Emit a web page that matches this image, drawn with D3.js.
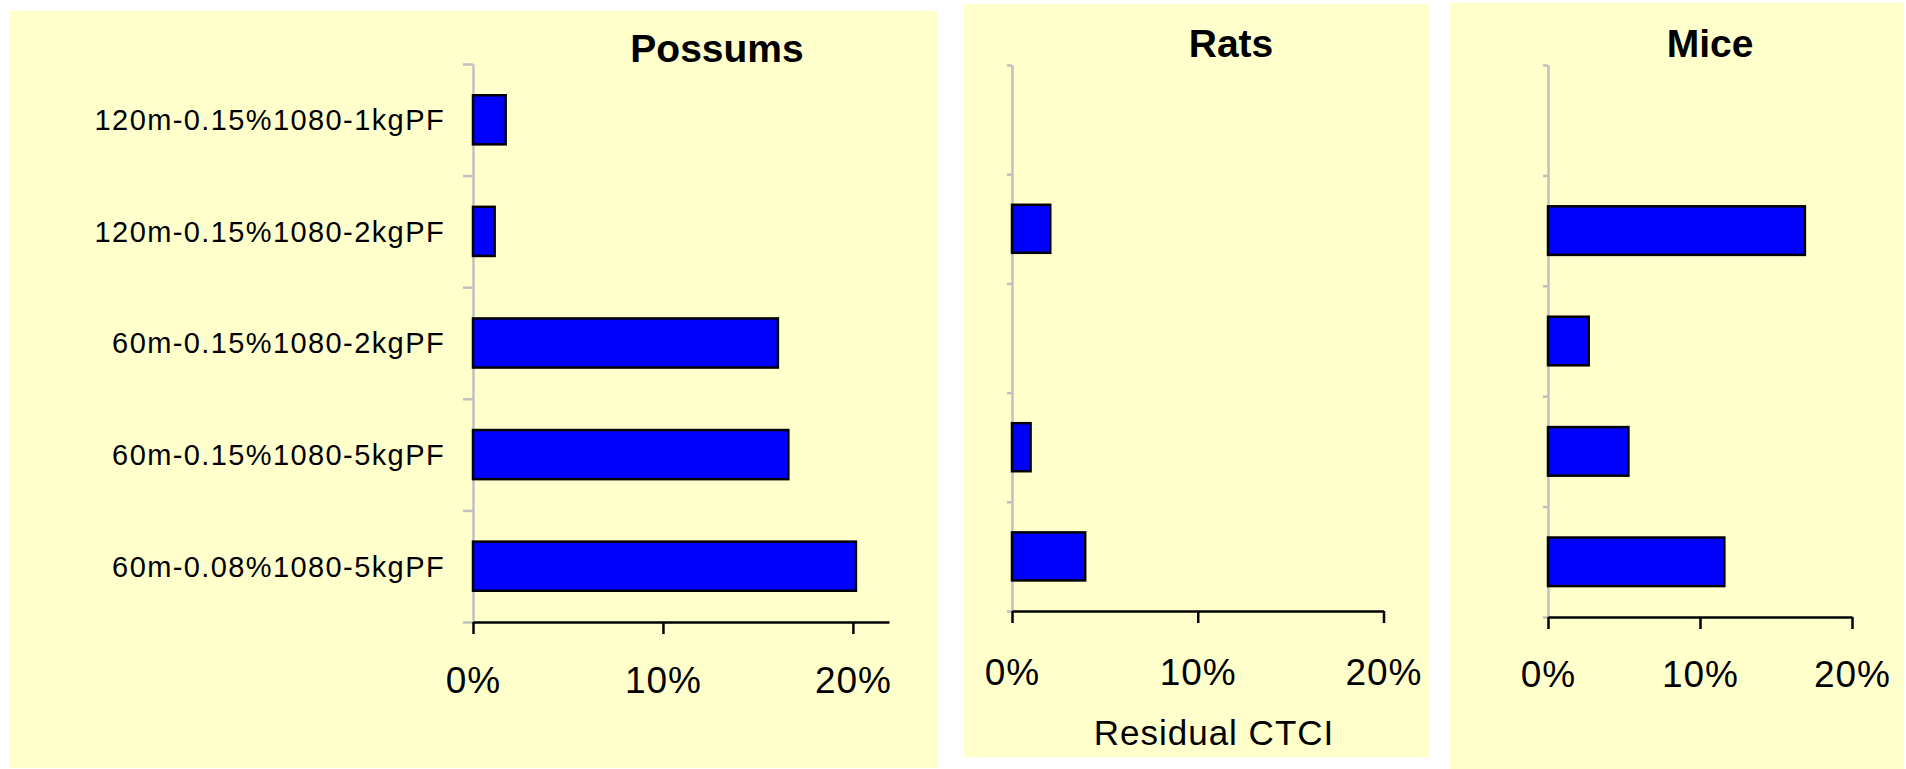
<!DOCTYPE html>
<meta charset="utf-8">
<style>
body { margin: 0; background: #fff; }
svg { display: block; font-family: "Liberation Sans", Arial, sans-serif; }
.panel { fill: #ffffcc; }
.yaxis path, .yaxis line { stroke: #c0c0c0; stroke-width: 2.5px; }
.xaxis path, .xaxis line { stroke: #000; stroke-width: 2.5px; }
.xaxis text { font-size: 37px; fill: #000; letter-spacing: 1px; }
.cat text { font-size: 29px; fill: #000; letter-spacing: 1.4px; }
.title { font-size: 39px; font-weight: bold; }
.bar { fill: #0000ff; stroke: #000; stroke-width: 2.5px; }
</style>
<svg width="1906" height="769" id="chart"></svg>
<script src="https://d3js.org/d3.v7.min.js"></script>
<script>
// categories, top to bottom
var categories = ["120m-0.15%1080-1kgPF", "120m-0.15%1080-2kgPF", "60m-0.15%1080-2kgPF",
                  "60m-0.15%1080-5kgPF", "60m-0.08%1080-5kgPF"];
// residual CTCI in %
var possums = [1.72, 1.14, 16.05, 16.6, 20.16];
var rats = [0, 2.06, 0, 1.0, 3.94];
var mice = [0, 16.9, 2.68, 5.29, 11.6];
var xTicks = [0, 10, 20];
var titles = ["Possums", "Rats", "Mice"];
var xLabel = "Residual CTCI";

var svg = d3.select("#chart");

// layout of each panel (background box, plot area, axis extent)
var panels = [
  {values: possums, title: titles[0], box: [9, 11, 928, 757], x0: 473, x1: 889, xmax: 21.9,
   top: 64, bottom: 622, tick: 10, pad: 33, tx: 717, ty: 62, labels: true},
  {values: rats, title: titles[1], box: [964, 4, 465, 753], x0: 1012, x1: 1383.5, xmax: 20,
   top: 65, bottom: 611, tick: 5, pad: 36, tx: 1231, ty: 57, xlabel: [1214, 745]},
  {values: mice, title: titles[2], box: [1450, 3, 454, 766], x0: 1548, x1: 1852, xmax: 20,
   top: 65, bottom: 617, tick: 5, pad: 32, tx: 1710, ty: 57}
];

panels.forEach(function(p) {
  var g = svg.append("g");

  g.append("rect").attr("class", "panel")
    .attr("x", p.box[0]).attr("y", p.box[1])
    .attr("width", p.box[2]).attr("height", p.box[3]);

  var x = d3.scaleLinear().domain([0, p.xmax]).range([p.x0, p.x1]);
  var y = d3.scaleBand().domain(categories).range([p.top, p.bottom]);
  // boundaries between categories for the tick marks
  var yEdge = d3.scaleLinear().domain([0, categories.length]).range([p.top, p.bottom]);

  g.append("g").attr("class", "yaxis")
    .attr("transform", `translate(${p.x0},0)`)
    .call(d3.axisLeft(yEdge).ticks(categories.length).tickSize(p.tick).tickSizeOuter(0).tickFormat(""));

  var bh = y.bandwidth() * 0.44;
  g.append("g")
    .selectAll("rect")
    .data(p.values.map(function(v, i) { return {c: categories[i], v: v}; }).filter(d => d.v > 0))
    .enter().append("rect")
      .attr("class", "bar")
      .attr("x", x(0))
      .attr("y", d => y(d.c) + (y.bandwidth() - bh) / 2)
      .attr("width", d => x(d.v) - x(0))
      .attr("height", bh);

  g.append("g").attr("class", "xaxis")
    .attr("transform", `translate(0,${p.bottom})`)
    .call(d3.axisBottom(x).tickValues(xTicks).tickFormat(d => d + "%")
      .tickSize(12).tickSizeOuter(0).tickPadding(p.pad));

  if (p.labels) {
    g.append("g").attr("class", "cat")
      .attr("transform", `translate(${p.x0 - 28},0)`)
      .call(d3.axisLeft(y).tickSize(0).tickPadding(0))
      .call(a => a.select(".domain").remove())
      .selectAll("text").attr("dy", "0.36em");
  }

  g.append("text").attr("class", "title")
    .attr("x", p.tx).attr("y", p.ty)
    .attr("text-anchor", "middle")
    .text(p.title);

  if (p.xlabel) {
    g.append("text")
      .attr("x", p.xlabel[0]).attr("y", p.xlabel[1])
      .attr("text-anchor", "middle")
      .attr("font-size", 35).attr("letter-spacing", "1px")
      .text(xLabel);
  }
});
</script>
